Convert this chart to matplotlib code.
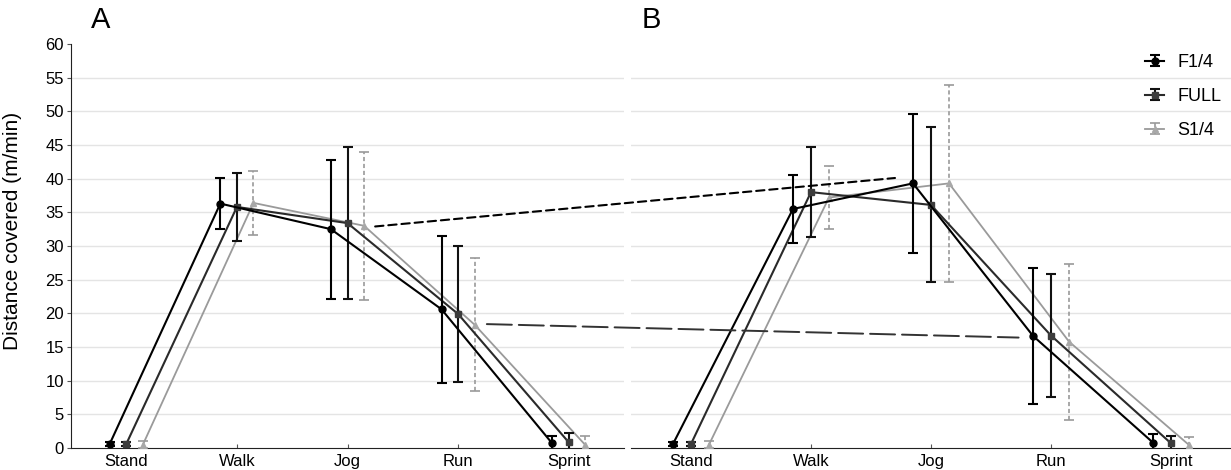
import matplotlib
matplotlib.use("Agg")
import matplotlib.pyplot as plt
from matplotlib.patches import ConnectionPatch
from matplotlib.legend_handler import HandlerErrorbar
from matplotlib.container import ErrorbarContainer

plt.rcParams['font.family'] = ['Liberation Sans', 'DejaVu Sans']
plt.rcParams['lines.scale_dashes'] = False

# Categorias e dados
categorias = ['Stand', 'Walk', 'Jog', 'Run', 'Sprint']
series = ['F1/4', 'FULL', 'S1/4']

# Painel A
f14_a = [0.6, 36.3, 32.5, 20.6, 0.7]
f14_a_err = [0.35, 3.8, 10.3, 10.9, 1.1]
full_a = [0.6, 35.8, 33.4, 19.9, 0.85]
full_a_err = [0.35, 5.0, 11.3, 10.1, 1.45]
s14_a = [0.5, 36.4, 33.0, 18.3, 0.45]
s14_a_err = [0.5, 4.75, 11.0, 9.9, 1.35]

# Painel B
f14_b = [0.6, 35.5, 39.3, 16.65, 0.8]
f14_b_err = [0.35, 5.05, 10.35, 10.15, 1.3]
full_b = [0.6, 38.0, 36.1, 16.7, 0.7]
full_b_err = [0.35, 6.7, 11.5, 9.1, 1.1]
s14_b = [0.5, 37.2, 39.3, 15.8, 0.45]
s14_b_err = [0.5, 4.7, 14.65, 11.6, 1.15]

# Linhas tracejadas ligando os painéis (A -> B)
conexao_jog = [(2.25, 32.9), (1.70, 40.1)]
conexao_run = [(3.26, 18.4), (2.73, 16.4)]

# Estilos
deslocamento = [-0.15, 0.0, 0.15]
cores_linha = ['#000000', '#2a2a2a', '#9a9a9a']
cores_marc = ['#000000', '#3c3c3c', '#a8a8a8']
marcadores = ['o', 's', '^']
tam_marc = [5, 5, 4]
larg_linha = [1.5, 1.5, 1.3]
cores_erro = ['#000000', '#111111', '#9a9a9a']


def desenhar_painel(ax, medias, erros, mostrar_y):
    x = list(range(len(categorias)))
    conts = []
    for i in range(3):
        xs = [v + deslocamento[i] for v in x]
        c = ax.errorbar(xs, medias[i], yerr=erros[i],
                        color=cores_linha[i], lw=larg_linha[i],
                        marker=marcadores[i], ms=tam_marc[i],
                        mfc=cores_marc[i], mec=cores_marc[i],
                        ecolor=cores_erro[i], elinewidth=1.5,
                        capsize=3.8, capthick=1.5,
                        label=series[i], zorder=5 - i)
        if i == 2:
            for lc in c[2]:
                lc.set_linestyle((0, (3, 2)))
                lc.set_linewidth(1.2)
            for cl in c[1]:
                cl.set_markeredgewidth(1.2)
        conts.append(c)

    ax.set_xlim(-0.5, len(categorias) - 0.5)
    ax.set_ylim(0, 60)
    ax.set_xticks(x)
    ax.set_xticklabels(categorias, fontsize=12)
    ax.set_yticks(range(0, 61, 5))
    ax.yaxis.grid(True, color='#e4e4e4', lw=1)
    ax.set_axisbelow(True)
    gl = ax.yaxis.get_gridlines()
    gl[0].set_visible(False)
    gl[-1].set_visible(False)

    ax.spines['top'].set_visible(False)
    ax.spines['right'].set_visible(False)
    ax.tick_params(axis='x', direction='in', length=3, pad=4,
                   color='#555555')
    if mostrar_y:
        ax.tick_params(axis='y', direction='out', length=3, pad=2,
                       labelsize=12, color='#555555')
        ax.spines['left'].set_color('#222222')
    else:
        ax.spines['left'].set_visible(False)
        ax.tick_params(axis='y', left=False, labelleft=False)
    ax.spines['bottom'].set_color('#222222')
    return conts


fig = plt.figure(figsize=(12.31, 4.70), dpi=100)
axA = fig.add_axes([71 / 1231, 22 / 470, 553 / 1231, 404 / 470])
axB = fig.add_axes([631 / 1231, 22 / 470, 600 / 1231, 404 / 470])

desenhar_painel(axA, [f14_a, full_a, s14_a],
                [f14_a_err, full_a_err, s14_a_err], True)
desenhar_painel(axB, [f14_b, full_b, s14_b],
                [f14_b_err, full_b_err, s14_b_err], False)

axA.set_ylabel('Distance covered (m/min)', fontsize=15)
axA.yaxis.set_label_coords(-0.089, 0.537)

fig.text(91 / 1231, 1 - 28 / 470, 'A', fontsize=21, va='baseline')
fig.text(642 / 1231, 1 - 28 / 470, 'B', fontsize=21, va='baseline')

axB.legend(loc='upper right', bbox_to_anchor=(1.0, 1.0), frameon=False,
           fontsize=13, handlelength=1.1, handletextpad=0.7,
           labelspacing=0.95, borderaxespad=0.15,
           handler_map={ErrorbarContainer: HandlerErrorbar(yerr_size=0.3)})

# Conexões tracejadas entre os painéis
con1 = ConnectionPatch(xyA=conexao_jog[0], xyB=conexao_jog[1],
                       coordsA='data', coordsB='data',
                       axesA=axA, axesB=axB,
                       color='#000000', lw=1.5, linestyle=(0, (6, 3.5)))
con2 = ConnectionPatch(xyA=conexao_run[0], xyB=conexao_run[1],
                       coordsA='data', coordsB='data',
                       axesA=axA, axesB=axB,
                       color='#333333', lw=1.4, linestyle=(0, (18, 5)))
fig.add_artist(con1)
fig.add_artist(con2)

plt.savefig('out.png', dpi=100)
